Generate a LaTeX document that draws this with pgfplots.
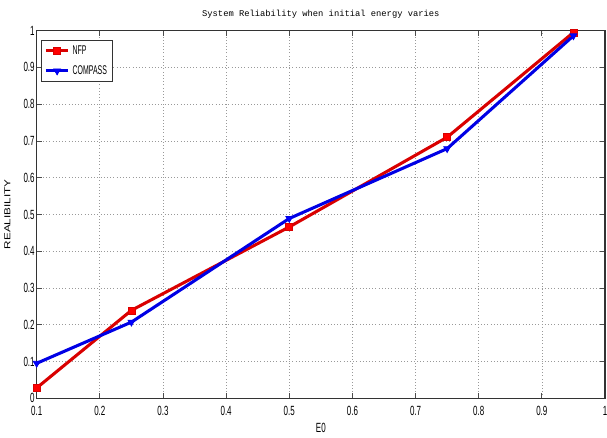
\documentclass[border=0pt]{standalone}
\usepackage{fontspec}
\setmainfont{Liberation Sans}
\newfontfamily\narrow[FakeStretch=0.6]{Liberation Sans}
\newfontfamily\legfont[FakeStretch=0.55]{Liberation Sans}
\newfontfamily\widesans[FakeStretch=1.35]{Liberation Sans}
\newfontfamily\mono{Liberation Mono}
\usepackage{pgfplots}
\pgfplotsset{compat=1.18}

\begin{document}
\begin{tikzpicture}
\begin{axis}[
    scale only axis,
    width=426.75pt, height=276pt,
    xmin=0.1, xmax=1, ymin=0, ymax=1,
    xtick={0.1,0.2,...,1.0},
    ytick={0,0.1,...,1.0},
    /pgf/number format/assume math mode=true,
    xticklabel style={font=\narrow\fontsize{10}{11}\selectfont, yshift=-2.5pt},
    yticklabel style={font=\narrow\fontsize{10}{11}\selectfont, xshift=2pt},
    tick align=inside,
    major tick length=4pt,
    tick style={black!70, line width=0.6pt},
    axis line style={black!80, line width=0.8pt},
    grid=major,
    grid style={dotted, gray!80, line width=0.5pt},
    title={System Reliability when initial energy varies},
    title style={font=\mono\fontsize{6.6}{8}\selectfont, yshift=0pt},
    xlabel={E0},
    xlabel style={font=\narrow\fontsize{10}{11}\selectfont, yshift=1pt},
    ylabel={REALIBILITY},
    ylabel style={font=\widesans\fontsize{6.5}{7}\selectfont, yshift=3pt},
    legend style={at={(rel axis cs:0.008,0.975)}, anchor=north west,
        font=\legfont\fontsize{9.5}{12}\selectfont, draw=black!80,
        inner sep=2pt, row sep=3pt, line width=0.5pt},
    legend cell align=left,
]
\addplot[color=red!85!black, line width=2.3pt, mark=square*,
    mark size=2.6pt, mark options={solid, fill=red, draw=red!85!black, line width=0.5pt}]
    coordinates {(0.1,0.028)(0.25,0.239)(0.5,0.466)(0.75,0.71)(0.95,0.995)};
\addplot[color=blue!90!black, line width=2.3pt, mark=triangle*,
    mark size=3pt, mark options={solid, rotate=180, fill=blue, draw=blue!90!black, line width=0.5pt}]
    coordinates {(0.1,0.095)(0.25,0.207)(0.5,0.489)(0.75,0.679)(0.95,0.986)};
\legend{NFP, COMPASS}
\end{axis}
\pgfresetboundingbox
\path[use as bounding box] (current axis.outer south west) rectangle ([xshift=1.5pt,yshift=4pt]current axis.east |- current axis.outer north east);
\end{tikzpicture}
\end{document}
